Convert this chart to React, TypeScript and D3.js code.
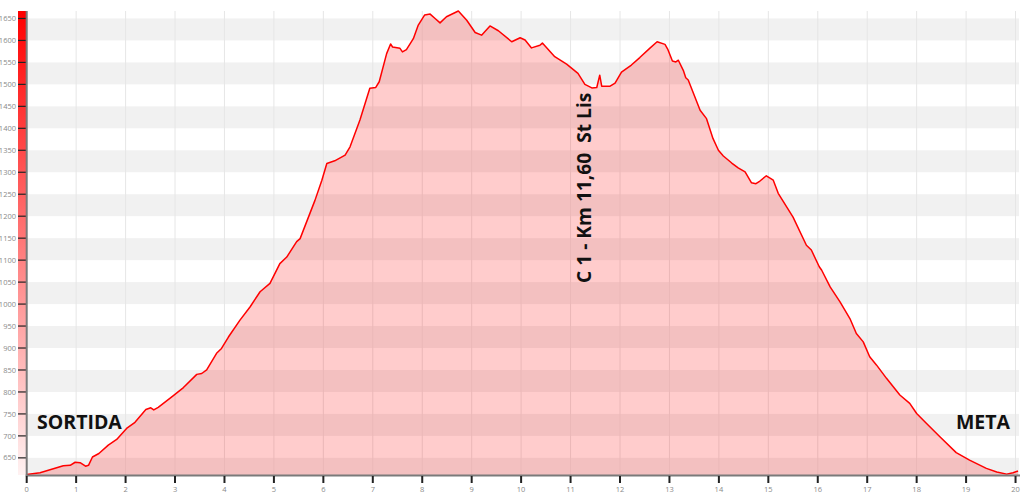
import React from 'react';
import * as d3 from 'd3';

const distanceKm = [
  0, 0.27, 0.74, 0.88, 0.98, 1.08, 1.19, 1.25, 1.33, 1.46, 1.65, 1.82, 2.02, 2.19, 2.41, 2.51, 2.57, 2.66, 2.96,
  3.17, 3.44, 3.54, 3.64, 3.84, 3.94, 4.08, 4.31, 4.52, 4.72, 4.92, 5.12, 5.26, 5.46, 5.53, 5.83, 5.97, 6.07,
  6.23, 6.44, 6.54, 6.74, 6.94, 7.06, 7.13, 7.28, 7.36, 7.40, 7.55, 7.60, 7.68, 7.82, 7.92, 8.05, 8.16, 8.26,
  8.36, 8.49, 8.73, 8.90, 9.07, 9.20, 9.37, 9.54, 9.81, 9.98, 10.08, 10.21, 10.38, 10.43, 10.68, 10.92, 11.15,
  11.29, 11.43, 11.53, 11.59, 11.63, 11.80, 11.90, 12.03, 12.23, 12.40, 12.60, 12.75, 12.91, 12.97, 13.06,
  13.13, 13.18, 13.28, 13.33, 13.38, 13.62, 13.75, 13.88, 13.99, 14.09, 14.26, 14.39, 14.53, 14.66, 14.75,
  14.83, 14.96, 15.10, 15.20, 15.50, 15.77, 15.87, 16.03, 16.08, 16.25, 16.45, 16.65, 16.78, 16.92, 17.05,
  17.19, 17.39, 17.66, 17.86, 18.00, 18.20, 18.47, 18.80, 19.07, 19.41, 19.62, 19.82, 19.95, 20.05,
];

const elevationM = [
  612, 616, 632, 633, 640, 639, 631, 633, 652, 660, 679, 692, 717, 731, 760, 764, 759, 765, 791,
  810, 840, 842, 850, 888, 899, 925, 963, 994, 1028, 1047, 1092, 1107, 1142, 1149, 1236, 1282, 1320,
  1326, 1339, 1358, 1419, 1491, 1493, 1506, 1570, 1592, 1585, 1582, 1574, 1579, 1604, 1635, 1658, 1660, 1650,
  1640, 1654, 1667, 1646, 1618, 1612, 1633, 1622, 1597, 1606, 1601, 1583, 1589, 1594, 1563, 1546, 1525,
  1500, 1492, 1493, 1521, 1496, 1496, 1503, 1528, 1544, 1561, 1582, 1597, 1591, 1579, 1553,
  1551, 1555, 1532, 1515, 1510, 1441, 1422, 1377, 1350, 1337, 1321, 1310, 1301, 1276, 1274,
  1280, 1292, 1282, 1252, 1198, 1134, 1123, 1085, 1077, 1039, 1005, 967, 933, 914, 880,
  861, 831, 793, 774, 751, 728, 698, 662, 645, 626, 618, 613, 616, 620,
];

const xTickValues = [0, 1, 2, 3, 4, 5, 6, 7, 8, 9, 10, 11, 12, 13, 14, 15, 16, 17, 18, 19, 20];
const yTickValues = [650, 700, 750, 800, 850, 900, 950, 1000, 1050, 1100, 1150, 1200, 1250, 1300, 1350, 1400, 1450, 1500, 1550, 1600, 1650];
const bandStarts = [600, 700, 800, 900, 1000, 1100, 1200, 1300, 1400, 1500, 1600];

const startLabel = 'SORTIDA';
const endLabel = 'META';
const checkpointLabel = 'C 1 - Km 11,60  St Lis';
const checkpointKm = 11.60;

const xDomain: [number, number] = [0, 20.07];
const yDomain: [number, number] = [611, 1667];

export default function App() {
  const W = 1024, H = 496;
  const left = 26.7, right = 1019, top = 11, bottom = 475;
  const x = d3.scaleLinear().domain(xDomain).range([left, right]);
  const y = d3.scaleLinear().domain(yDomain).range([bottom, top]);
  const pts = distanceKm.map((d, i) => [d, elevationM[i]] as [number, number]);
  const area = d3.area<[number, number]>().x(d => x(d[0])).y0(bottom).y1(d => y(d[1]))(pts) || '';
  const line = d3.line<[number, number]>().x(d => x(d[0])).y(d => y(d[1]))(pts) || '';
  const font = "'Open Sans', 'Noto Sans', sans-serif";

  return (
    <svg width={W} height={H} style={{ position: 'absolute', left: 0, top: 0 }} xmlns="http://www.w3.org/2000/svg">
      <defs>
        <linearGradient id="bar" x1="0" y1="0" x2="0" y2="1">
          <stop offset="0%" stopColor="#ff0000" />
          <stop offset="100%" stopColor="#fff2f2" />
        </linearGradient>
      </defs>
      <rect x={0} y={0} width={W} height={H} fill="#ffffff" />
      {bandStarts.map(b => {
        const y1 = y(Math.min(b + 50, yDomain[1]));
        const y0 = y(Math.max(b, yDomain[0]));
        return <rect key={b} x={left} y={y1} width={right - left} height={y0 - y1} fill="#f1f1f1" />;
      })}
      {xTickValues.map(t => (
        <line key={t} x1={x(t)} x2={x(t)} y1={top} y2={bottom} stroke="#e6e6e6" strokeWidth={1} />
      ))}
      <path d={area} fill="rgba(255,0,0,0.2)" />
      <path d={line} fill="none" stroke="#ff0000" strokeWidth={1.5} strokeLinejoin="round" />
      <rect x={18} y={top} width={8} height={bottom - top} fill="url(#bar)" />
      {yTickValues.map(t => (
        <g key={t}>
          <line x1={18} x2={26} y1={y(t)} y2={y(t)} stroke="#222" strokeWidth={1.2} />
          <text x={16} y={y(t)} dy="0.35em" textAnchor="end" fontSize={7.5} fill="#8a8a8a" fontFamily={font}>{t}</text>
        </g>
      ))}
      <line x1={left} x2={left} y1={top} y2={bottom + 1} stroke="#7a7a7a" strokeWidth={2} />
      <line x1={left - 1} x2={right + 1} y1={bottom + 0.5} y2={bottom + 0.5} stroke="#7a7a7a" strokeWidth={2} />
      {xTickValues.map(t => (
        <g key={t}>
          <line x1={x(t)} x2={x(t)} y1={bottom + 1} y2={bottom + 8} stroke="#222" strokeWidth={2} />
          <text x={x(t)} y={492} textAnchor="middle" fontSize={7.5} fill="#8a8a8a" fontFamily={font}>{t}</text>
        </g>
      ))}
      <text x={37} y={429} fontSize={19.5} fontWeight={700} fill="#111" fontFamily={font}>{startLabel}</text>
      <text x={1010} y={429} textAnchor="end" fontSize={19.5} fontWeight={700} fill="#111" fontFamily={font}>{endLabel}</text>
      <text transform={`translate(${x(checkpointKm) - 9}, 283) rotate(-90)`} fontSize={19.2} fontWeight={700} fill="#111" fontFamily={font} style={{ whiteSpace: 'pre' }}>{checkpointLabel}</text>
    </svg>
  );
}
